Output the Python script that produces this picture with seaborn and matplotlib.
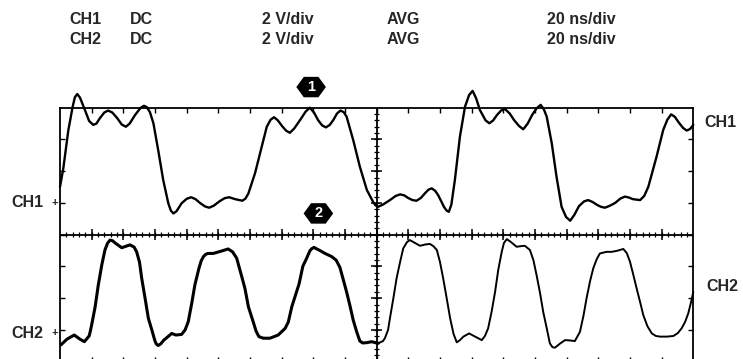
import numpy as np
import pandas as pd
import matplotlib
matplotlib.use("Agg")
import matplotlib.pyplot as plt
from matplotlib.patches import Polygon
import seaborn as sns

# ---- channel settings shown in the header ----
header_channels = ["CH1", "CH2"]
header_coupling = ["DC", "DC"]
header_scale = ["2 V/div", "2 V/div"]
header_mode = ["AVG", "AVG"]
header_time = ["20 ns/div", "20 ns/div"]

# ---- CH1 trace (time in divisions, level in divisions) ----
ch1_t = [0.00, 0.105, 0.263, 0.40, 0.47, 0.546, 0.63, 0.79, 0.92, 1.05, 1.15, 1.26, 1.40, 1.52,
         1.65, 1.80, 1.95, 2.08, 2.20, 2.37, 2.55, 2.65, 2.74, 2.84, 2.95, 3.10, 3.26, 3.42,
         3.50, 3.58, 3.68, 3.84, 4.00, 4.14, 4.28, 4.42, 4.58, 4.71, 4.85, 5.05, 5.20, 5.34,
         5.53, 5.76, 5.86, 5.95, 6.16, 6.37, 6.53, 6.65, 6.76, 6.88, 7.03, 7.15, 7.26, 7.40,
         7.58, 7.76, 7.89, 8.02, 8.15, 8.28, 8.40, 8.52, 8.63, 8.75, 8.86, 8.96, 9.05, 9.26,
         9.47, 9.69, 9.90, 9.97, 10.05, 10.20, 10.42, 10.60, 10.74, 10.87, 10.99, 11.13,
         11.26, 11.40, 11.53, 11.64, 11.74, 11.85, 11.94, 12.13, 12.21, 12.28, 12.36, 12.47,
         12.63, 12.79, 12.92, 13.03, 13.14, 13.26, 13.44, 13.56, 13.68, 13.80, 13.93, 14.05,
         14.20, 14.34, 14.50, 14.63, 14.77, 14.91, 15.05, 15.18, 15.28, 15.37, 15.53, 15.68,
         15.84, 15.98, 16.11, 16.24, 16.39, 16.55, 16.68, 16.82, 16.96, 17.08, 17.21, 17.36,
         17.53, 17.70, 17.84, 17.97, 18.09, 18.32, 18.45, 18.58, 18.84, 19.05, 19.18, 19.30,
         19.42, 19.55, 19.68, 19.79, 19.90, 20.00]
ch1_v = [1.51, 2.09, 3.29, 4.03, 4.33, 4.43, 4.32, 3.92, 3.58, 3.46, 3.50, 3.67, 3.85, 3.91,
         3.85, 3.68, 3.47, 3.40, 3.50, 3.77, 4.00, 4.06, 4.02, 3.86, 3.51, 2.67, 1.72, 0.99,
         0.76, 0.67, 0.74, 0.99, 1.13, 1.18, 1.12, 1.00, 0.89, 0.85, 0.91, 1.06, 1.15, 1.18,
         1.12, 1.07, 1.14, 1.30, 1.94, 2.77, 3.40, 3.62, 3.70, 3.60, 3.40, 3.27, 3.21, 3.35,
         3.61, 3.88, 4.00, 3.85, 3.61, 3.44, 3.38, 3.46, 3.61, 3.82, 3.91, 3.86, 3.72, 2.98,
         2.14, 1.41, 1.01, 0.92, 0.88, 0.95, 1.09, 1.22, 1.27, 1.24, 1.16, 1.09,
         1.07, 1.16, 1.31, 1.42, 1.46, 1.38, 1.25, 0.87, 0.76, 0.72, 0.95, 1.72,
         3.09, 4.03, 4.40, 4.53, 4.30, 3.93, 3.60, 3.51, 3.60, 3.77, 3.91, 3.96,
         3.82, 3.61, 3.42, 3.32, 3.50, 3.77, 3.98, 4.09, 3.95, 3.72, 2.88, 1.83,
         0.88, 0.56, 0.44, 0.62, 0.90, 1.05, 1.09, 1.03, 0.94, 0.88, 0.85, 0.91,
         1.00, 1.14, 1.20, 1.17, 1.12, 1.09, 1.22, 1.51, 2.46, 3.30, 3.62, 3.79,
         3.71, 3.52, 3.36, 3.28, 3.33, 3.46]

# ---- CH2 trace ----
ch2_t = [0.03, 0.22, 0.45, 0.63, 0.77, 0.92, 0.96, 1.00, 1.11, 1.21, 1.32, 1.42, 1.50, 1.58,
         1.66, 1.74, 1.95, 2.21, 2.34, 2.42, 2.51, 2.58, 2.67, 2.79, 2.90, 3.00, 3.04, 3.10,
         3.18, 3.28, 3.53, 3.66, 3.84, 3.95, 4.05, 4.16, 4.26, 4.39, 4.46, 4.53, 4.60, 4.67,
         4.84, 5.05, 5.31, 5.45, 5.58, 5.74, 5.84, 5.95, 6.10, 6.19, 6.28, 6.42, 6.63, 6.89,
         7.11, 7.21, 7.32, 7.55, 7.67, 7.79, 7.89, 7.95, 8.02, 8.21, 8.37, 8.58, 8.72, 8.84,
         8.95, 9.05, 9.16, 9.26, 9.37, 9.47, 9.56, 9.69, 9.84, 10.05, 10.20, 10.26, 10.36,
         10.42, 10.53, 10.63, 10.74, 10.84, 10.96, 11.05, 11.21, 11.37, 11.53, 11.68, 11.79,
         11.90, 12.00, 12.10, 12.21, 12.32, 12.43, 12.53, 12.63, 12.74, 12.92, 13.11, 13.32,
         13.42, 13.52, 13.63, 13.74, 13.84, 13.95, 14.02, 14.11, 14.24, 14.42, 14.56, 14.68,
         14.84, 14.95, 15.05, 15.16, 15.26, 15.37, 15.47, 15.55, 15.63, 15.79, 15.95, 16.10,
         16.26, 16.42, 16.53, 16.63, 16.74, 16.84, 16.95, 17.05, 17.26, 17.42, 17.58, 17.79,
         17.90, 18.00, 18.10, 18.21, 18.32, 18.42, 18.55, 18.69, 18.82, 18.95, 19.17, 19.37,
         19.51, 19.63, 19.74, 19.84, 19.93, 20.00]
ch2_v = [-3.47, -3.29, -3.16, -3.29, -3.37, -3.19, -3.03, -2.84, -2.27, -1.58, -0.95, -0.48, -0.27, -0.17,
         -0.19, -0.26, -0.41, -0.32, -0.39, -0.54, -0.86, -1.37, -1.90, -2.63, -3.00, -3.35, -3.44, -3.49,
         -3.44, -3.32, -3.11, -3.16, -3.14, -3.00, -2.74, -2.16, -1.58, -1.05, -0.82, -0.69, -0.62, -0.59,
         -0.59, -0.53, -0.45, -0.54, -0.74, -1.32, -1.69, -2.27, -2.74, -3.03, -3.21, -3.26, -3.26, -3.16,
         -2.95, -2.75, -2.27, -1.55, -0.99, -0.74, -0.51, -0.44, -0.40, -0.50, -0.59, -0.69, -0.80, -1.03,
         -1.43, -1.80, -2.25, -2.69, -3.06, -3.35, -3.41, -3.40, -3.37, -3.42, -3.35, -3.26, -3.00,
         -2.63, -1.99, -1.37, -0.86, -0.43, -0.23, -0.17, -0.26, -0.35, -0.31, -0.29, -0.36,
         -0.48, -0.86, -1.37, -1.99, -2.63, -3.13, -3.39, -3.32, -3.21, -3.11, -3.21, -3.32,
         -3.19, -2.95, -2.43, -1.80, -1.11, -0.54, -0.26, -0.14, -0.23, -0.38, -0.36, -0.35,
         -0.48, -0.80, -1.27, -1.84, -2.43, -2.94, -3.42, -3.54, -3.56, -3.43, -3.32, -3.33,
         -3.35, -3.06, -2.56, -2.00, -1.46, -1.06, -0.77, -0.59, -0.54, -0.54, -0.51, -0.45,
         -0.58, -0.85, -1.24, -1.69, -2.12, -2.53, -2.88, -3.11, -3.19, -3.21, -3.21, -3.19,
         -3.10, -2.95, -2.75, -2.48, -2.12, -1.80]

# ground reference levels and trigger markers
ground_labels = ["CH1", "CH2"]
ground_levels = [1.0, -3.1]
marker_labels = ["1", "2"]
marker_t = [7.93, 8.16]
marker_v = [4.65, 0.67]

W, H = 743, 359
sns.set_style("white")
plt.rcParams["font.family"] = ["Liberation Sans", "DejaVu Sans"]

fig = plt.figure(figsize=(W / 100, H / 100), dpi=100)
# graticule: 20 x 8 divisions
left_px, right_px, top_px, bottom_px = 60.0, 693.3, 107.7, 361.7
ax = fig.add_axes([left_px / W, 1 - bottom_px / H, (right_px - left_px) / W, (bottom_px - top_px) / H])
ax.set_xlim(0, 20)
ax.set_ylim(-4, 4)
ax.set_facecolor("white")
for s in ax.spines.values():
    s.set_visible(True)
    s.set_color("black")
    s.set_linewidth(1.3)
ax.set_xticks(np.arange(1, 20))
ax.set_yticks(np.arange(-3, 4))
ax.tick_params(axis="both", which="major", direction="in", length=3.8, width=1.0,
               top=True, bottom=True, left=True, right=True,
               labelbottom=False, labelleft=False, colors="black")

# centre cross with division and sub-division ticks
ax.axhline(0, color="black", lw=1.3)
ax.axvline(10, color="black", lw=1.3)
minor_x = np.arange(0.2, 20, 0.2)
minor_y = np.arange(-3.8, 4, 0.2)
ax.vlines(minor_x, -0.085, 0.085, color="black", lw=0.9)
ax.vlines(np.arange(1, 20), -0.17, 0.17, color="black", lw=1.1)
ax.hlines(minor_y, 10 - 0.085, 10 + 0.085, color="black", lw=0.9)
ax.hlines(np.arange(-3, 4), 10 - 0.17, 10 + 0.17, color="black", lw=1.1)

# traces
df1 = pd.DataFrame({"t": ch1_t, "v": ch1_v})
df2 = pd.DataFrame({"t": ch2_t, "v": ch2_v})
line_kw = dict(color="black", sort=False, estimator=None, clip_on=False,
               solid_joinstyle="round", solid_capstyle="round")
sns.lineplot(data=df1, x="t", y="v", ax=ax, lw=1.7, **line_kw)
sns.lineplot(data=df2[df2["t"] <= 10.05], x="t", y="v", ax=ax, lw=2.2, **line_kw)
sns.lineplot(data=df2[df2["t"] >= 10.0], x="t", y="v", ax=ax, lw=1.4, **line_kw)
ax.set_xlabel("")
ax.set_ylabel("")

# trigger markers: black hexagons with white numerals
for lab, mt, mv in zip(marker_labels, marker_t, marker_v):
    hw, hh = 0.44, 0.30
    verts = [(mt - hw, mv), (mt - hw / 2, mv + hh), (mt + hw / 2, mv + hh),
             (mt + hw, mv), (mt + hw / 2, mv - hh), (mt - hw / 2, mv - hh)]
    ax.add_patch(Polygon(verts, closed=True, facecolor="black", edgecolor="black",
                         clip_on=False, zorder=5))
    ax.text(mt, mv, lab, color="white", ha="center", va="center", fontsize=10.5,
            fontweight="bold", zorder=6, clip_on=False)

# ground reference labels on the left, channel names on the right
for lab, lev in zip(ground_labels, ground_levels):
    ax.annotate(lab, xy=(0, lev), xycoords="data", xytext=(-12, 0),
                textcoords="offset points", ha="right", va="center",
                fontsize=11.5, fontweight="bold", annotation_clip=False)
    ax.annotate("+", xy=(0, lev), xycoords="data", xytext=(-4, 0),
                textcoords="offset points", ha="center", va="center",
                fontsize=8, fontweight="bold", annotation_clip=False)

def fig_xy(px, py):
    return px / W, 1 - py / H

fig.text(*fig_xy(704, 122.7), "CH1", ha="left", va="center", fontsize=11.5, fontweight="bold")
fig.text(*fig_xy(706, 286.7), "CH2", ha="left", va="center", fontsize=11.5, fontweight="bold")

# header rows
col_x = [69, 130, 262, 387, 547]
row_y = [20, 39.5]
for i in range(2):
    row = [header_channels[i], header_coupling[i], header_scale[i], header_mode[i], header_time[i]]
    for x, txt in zip(col_x, row):
        fig.text(*fig_xy(x, row_y[i]), txt, ha="left", va="center", fontsize=11.5,
                 fontweight="bold")

fig.savefig("out.png", dpi=100, facecolor="white")
